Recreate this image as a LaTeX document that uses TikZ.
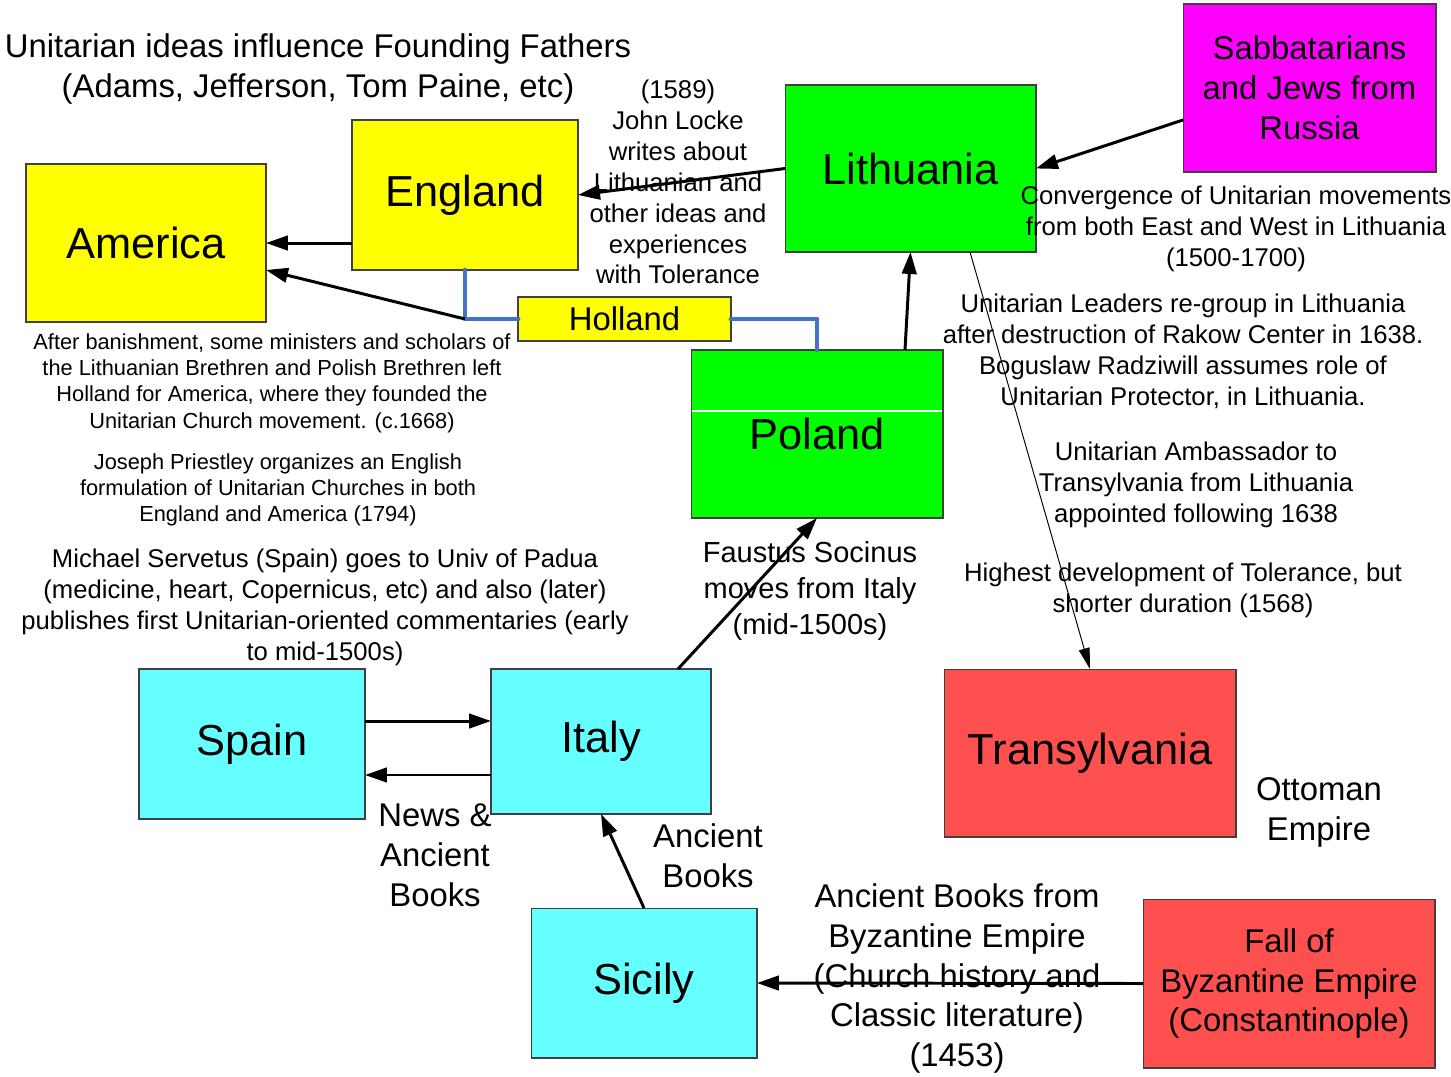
\documentclass[tikz,border=0pt]{standalone}
\usepackage{fontspec}
\setmainfont{Liberation Sans}
\usetikzlibrary{arrows.meta}
\definecolor{yel}{HTML}{FFFF00}
\definecolor{grn}{HTML}{00FF00}
\definecolor{mag}{HTML}{FF00FF}
\definecolor{rd}{HTML}{FF5050}
\definecolor{cyn}{HTML}{66FFFF}
\definecolor{lnk}{HTML}{4472C4}
\newcommand\boxfont{\fontsize{24.7}{28}\selectfont}
\newcommand\bigfont{\fontsize{18.7}{22.7}\selectfont}
\newcommand\faufont{\fontsize{16.5}{20.4}\selectfont}
\newcommand\midfont{\fontsize{14.6}{17.6}\selectfont}
\newcommand\smallfont{\fontsize{12.4}{15}\selectfont}
\tikzset{
  place/.style={draw=black!75, line width=0.6pt, inner sep=0pt, outer sep=0pt, font=\boxfont, align=center},
  note/.style={inner sep=0pt, align=center, yshift=-0.05cm},
  arr/.style={line width=1.7pt, -{Triangle[length=0.44cm,width=0.29cm]}},
  thinarr/.style={line width=0.55pt, -{Triangle[length=0.42cm,width=0.22cm]}},
  link/.style={draw=lnk, line width=2.8pt, line cap=round, line join=round}
}
\begin{document}
\begin{tikzpicture}[x=0.02cm,y=-0.02cm]
\useasboundingbox (0,0) rectangle (1451,1076);
\node [place, fill=yel, minimum width=4.8cm, minimum height=3.16cm] (America) at (146,243) {America};
\node [place, fill=yel, minimum width=4.52cm, minimum height=3cm] (England) at (465,195) {England};
\node [place, fill=yel, minimum width=4.26cm, minimum height=0.88cm, font=\bigfont] (Holland) at (624.5,319) {Holland};
\node [place, fill=grn, minimum width=5.02cm, minimum height=3.34cm] (Lithuania) at (910.5,168.5) {Lithuania};
\node [place, fill=mag, minimum width=5.06cm, minimum height=3.36cm, font=\bigfont] (Sabbatarians) at (1309.5,88) {Sabbatarians\\and Jews from\\Russia};
\node [place, fill=grn, minimum width=5.04cm, minimum height=3.36cm] (Poland) at (817,434) {Poland};
\draw [white, line width=0.6pt] (692,411) -- (942,411);
\node [place, fill=rd, minimum width=5.84cm, minimum height=3.36cm] (Transylvania) at (1090,753) {Transylvania};
\node [place, fill=rd, minimum width=5.84cm, minimum height=3.38cm, font=\bigfont] (Byzantium) at (1289,983.5) {Fall of\\Byzantine Empire\\(Constantinople)};
\node [place, fill=cyn, minimum width=4.52cm, minimum height=3cm] (Spain) at (252,744) {Spain};
\node [place, fill=cyn, minimum width=4.4cm, minimum height=2.9cm] (Italy) at (601,741.5) {Italy};
\node [place, fill=cyn, minimum width=4.52cm, minimum height=3cm] (Sicily) at (644,983) {Sicily};

\node [note, font=\bigfont] (founders) at (318,66.5) {Unitarian ideas influence Founding Fathers\\(Adams, Jefferson, Tom Paine, etc)};
\node [note, font=\midfont] (locke) at (678,179.5) {(1589)\\John Locke\\writes about\\Lithuanian and\\other ideas and\\experiences\\with Tolerance};
\node [note, font=\midfont] (converge) at (1236,226) {Convergence of Unitarian movements\\from both East and West in Lithuania\\(1500-1700)};
\node [note, font=\midfont] (regroup) at (1183,348.5) {Unitarian Leaders re-group in Lithuania\\after destruction of Rakow Center in 1638.\\Boguslaw Radziwill assumes role of\\Unitarian Protector, in Lithuania.};
\node [note, font=\midfont] (ambassador) at (1196,482) {Unitarian Ambassador to\\Transylvania from Lithuania\\appointed following 1638};
\node [note, font=\midfont] (tolerance) at (1183,587.5) {Highest development of Tolerance, but\\shorter duration (1568)};
\node [note, font=\smallfont] (banish) at (272,380.5) {After banishment, some ministers and scholars of\\the Lithuanian Brethren and Polish Brethren left\\Holland for America, where they founded the\\Unitarian Church movement. (c.1668)};
\node [note, font=\smallfont] (priestley) at (278,487.5) {Joseph Priestley organizes an English\\formulation of Unitarian Churches in both\\England and America (1794)};
\node [note, font=\midfont] (servetus) at (325,604.5) {Michael Servetus (Spain) goes to Univ of Padua\\(medicine, heart, Copernicus, etc) and also (later)\\publishes first Unitarian-oriented commentaries (early\\to mid-1500s)};
\node [note, font=\faufont] (socinus) at (810,588.5) {Faustus Socinus\\moves from Italy\\(mid-1500s)};
\node [note, font=\bigfont] (news) at (435,853) {News \&\\Ancient\\Books};
\node [note, font=\bigfont] (ancient) at (708,853) {Ancient\\Books};
\node [note, font=\bigfont] (byzbooks) at (957,976) {Ancient Books from\\Byzantine Empire\\(Church history and\\Classic literature)\\(1453)};
\node [note, font=\bigfont] (ottoman) at (1319,810) {Ottoman\\Empire};

\coordinate (hj) at (England.south |- Holland.west);
\draw [link] (England.south) -- (hj) -- (Holland.west);
\draw [link] (Holland.east) -- (Holland.east -| Poland.north) -- (Poland.north);
\draw [arr] (England.west |- America.east) -- (America.east);
\draw [arr] (hj) -- ([yshift=-0.54cm]America.east);
\draw [arr] (Lithuania.west) -- (England.east);
\draw [arr] ([yshift=-0.64cm]Sabbatarians.west) -- (Lithuania.east);
\draw [arr] ([xshift=1.76cm]Poland.north) -- (Lithuania.south);
\draw [thinarr] ([xshift=1.19cm]Lithuania.south) -- (Transylvania.north);
\draw [arr] ([xshift=1.54cm]Italy.north) -- (Poland.south);
\draw [arr] ([yshift=0.46cm]Spain.east) -- ([yshift=0.46cm]Spain.east -| Italy.west);
\draw [arr] ([yshift=-0.62cm]Spain.east -| Italy.west) -- ([yshift=-0.62cm]Spain.east);
\draw [arr] (Sicily.north) -- (Italy.south);
\draw [arr] (Byzantium.west) -- (Sicily.east);
\end{tikzpicture}
\end{document}
